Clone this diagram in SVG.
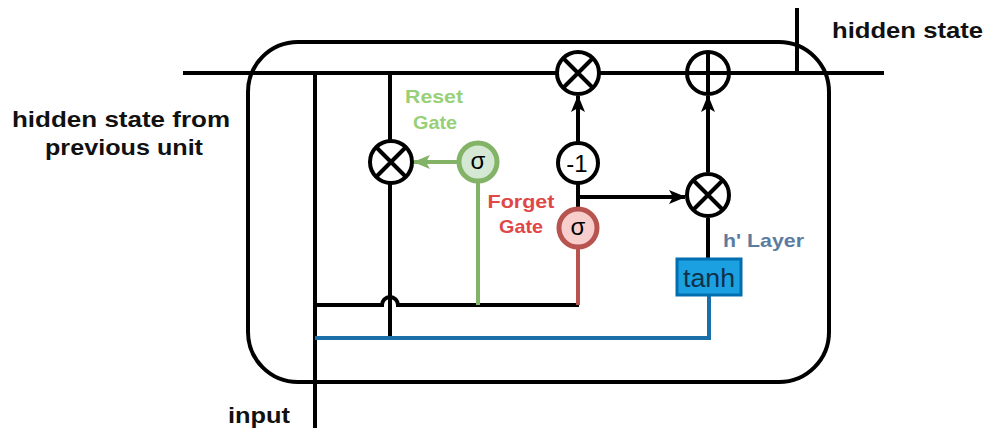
<svg xmlns="http://www.w3.org/2000/svg" width="987" height="430" viewBox="0 0 987 430">
<defs>
<style>
.ln{fill:none;stroke:#000;stroke-width:4}
.op{fill:#fff;stroke:#000;stroke-width:4}
.lbl{font-family:"Liberation Sans",Arial,sans-serif;font-weight:bold;font-size:22px;fill:#111}
.sym{font-family:"Liberation Sans",Arial,sans-serif;font-size:24px;fill:#000;text-anchor:middle;dominant-baseline:central}
.gl{font-family:"Liberation Sans",Arial,sans-serif;font-weight:bold;font-size:19px;text-anchor:middle}
</style>
<marker id="ab" markerUnits="userSpaceOnUse" markerWidth="18" markerHeight="16" refX="16" refY="7" orient="auto" overflow="visible">
<path d="M0,0 L17,7 L0,14 L4,7 Z" fill="#000"/>
</marker>
<marker id="ag" markerUnits="userSpaceOnUse" markerWidth="18" markerHeight="16" refX="16" refY="7" orient="auto" overflow="visible">
<path d="M0,0 L17,7 L0,14 L4,7 Z" fill="#82b366"/>
</marker>
</defs>
<rect x="0" y="0" width="987" height="430" fill="#fff"/>

<g id="cell">
<rect x="248" y="42" width="581" height="340" rx="50" ry="50" fill="none" stroke="#000" stroke-width="4"/>
</g>

<g id="connectors">
<line class="ln" x1="183" y1="73" x2="884" y2="73"/>
<line class="ln" x1="797" y1="8" x2="797" y2="73"/>
<line class="ln" x1="315" y1="73" x2="315" y2="428"/>
<line class="ln" x1="390" y1="73" x2="390" y2="338"/>
<path class="ln" d="M315,305 H382 A8,8 0 0 1 398,305 H579"/>
<line x1="478" y1="182" x2="478" y2="305" stroke="#82b366" stroke-width="4"/>
<line x1="457" y1="162" x2="414" y2="162" stroke="#82b366" stroke-width="4" marker-end="url(#ag)"/>
<line x1="578" y1="248" x2="578" y2="305" stroke="#b85450" stroke-width="4"/>
<line class="ln" x1="578" y1="208" x2="578" y2="183"/>
<line class="ln" x1="578" y1="197" x2="685" y2="197" marker-end="url(#ab)"/>
<line class="ln" x1="578" y1="143" x2="578" y2="96" marker-end="url(#ab)"/>
<line class="ln" x1="708" y1="172" x2="708" y2="96" marker-end="url(#ab)"/>
<line class="ln" x1="708" y1="258" x2="708" y2="218"/>
<path d="M315,338 H709 V296" fill="none" stroke="#1a6fa8" stroke-width="4"/>
</g>

<g id="mul-top">
<circle class="op" cx="578" cy="73" r="21"/>
<path class="ln" d="M563,58 L593,88 M593,58 L563,88"/>
</g>
<g id="plus-top">
<circle class="op" cx="708" cy="73" r="21"/>
<path class="ln" d="M708,52 V94 M687,73 H729"/>
</g>
<g id="mul-reset">
<circle class="op" cx="391" cy="162" r="21"/>
<path class="ln" d="M376,147 L406,177 M406,147 L376,177"/>
</g>
<g id="mul-right">
<circle class="op" cx="708" cy="195" r="21"/>
<path class="ln" d="M693,180 L723,210 M723,180 L693,210"/>
</g>
<g id="minus-one">
<circle class="op" cx="578" cy="163" r="20"/>
<text class="sym" x="577" y="163">-1</text>
</g>
<g id="reset-sigma">
<circle cx="478" cy="162" r="19" fill="#d5e8d4" stroke="#82b366" stroke-width="5"/>
<text class="sym" x="478" y="160">σ</text>
</g>
<g id="forget-sigma">
<circle cx="578" cy="228" r="19" fill="#f8cecc" stroke="#b85450" stroke-width="5"/>
<text class="sym" x="578" y="226">σ</text>
</g>
<g id="tanh">
<rect x="677" y="259" width="64" height="36" fill="#1ba1e2" stroke="#006eaf" stroke-width="3"/>
<text x="709" y="287" font-family="Liberation Sans,Arial,sans-serif" font-size="25" fill="#10304a" text-anchor="middle" textLength="52" lengthAdjust="spacingAndGlyphs">tanh</text>
</g>

<g id="labels">
<text class="lbl" x="832" y="38" textLength="151" lengthAdjust="spacingAndGlyphs">hidden state</text>
<text class="lbl" x="12" y="127" textLength="218" lengthAdjust="spacingAndGlyphs">hidden state from</text>
<text class="lbl" x="45" y="155" textLength="158" lengthAdjust="spacingAndGlyphs">previous unit</text>
<text class="lbl" x="228" y="423" textLength="62" lengthAdjust="spacingAndGlyphs">input</text>
<text class="gl" x="434" y="103" fill="#97d077" textLength="58" lengthAdjust="spacingAndGlyphs">Reset</text>
<text class="gl" x="435" y="129" fill="#97d077" textLength="44" lengthAdjust="spacingAndGlyphs">Gate</text>
<text class="gl" x="521" y="208" fill="#e04848" textLength="67" lengthAdjust="spacingAndGlyphs">Forget</text>
<text class="gl" x="521" y="233" fill="#e04848" textLength="44" lengthAdjust="spacingAndGlyphs">Gate</text>
<text x="723" y="247" font-family="Liberation Sans,Arial,sans-serif" font-weight="bold" font-size="19" fill="#5b7ca0" textLength="81" lengthAdjust="spacingAndGlyphs">h' Layer</text>
</g>
</svg>
